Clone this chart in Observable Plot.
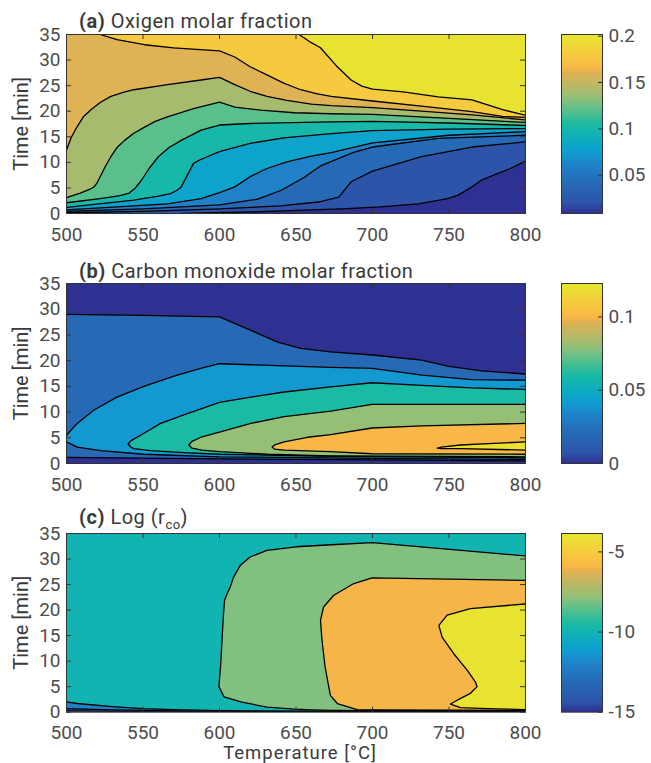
<!DOCTYPE html>
<html><head><meta charset="utf-8">
<script src="https://cdn.jsdelivr.net/npm/d3@7"></script>
<script src="https://cdn.jsdelivr.net/npm/@observablehq/plot@0.6"></script>
<style>
body{margin:0;background:#fff;}
#root{position:relative;width:651px;height:763px;overflow:hidden;font-family:Roboto,sans-serif;}
#root svg{position:absolute;}
</style></head><body><div id="root"></div>
<script>
// ---------- axes ----------
const tempDomain = [500, 800];
const timeDomain = [0, 35];
const tempTicks = [500, 550, 600, 650, 700, 750, 800];
const timeTicks = [0, 5, 10, 15, 20, 25, 30, 35];

// ---------- colormap (parula as rendered in the figure) ----------
const parulaStops  = [0, 0.06, 0.16, 0.27, 0.33, 0.38, 0.46, 0.5, 0.58, 0.63, 0.66, 0.7, 0.79, 0.81, 0.9, 0.97, 1];
const parulaColors = ["#2e3191","#2d55a9","#2668b4","#1f82c9","#139ad0","#0ba6c9","#13b6ae","#1ebba0","#5cbf8a","#84c07e","#9cbe72","#b2b96a","#e2b152","#f8b648","#f6cd3c","#ebe032","#e5e52f"];

// ---------- (a) oxygen molar fraction: contour lines [T, t] ----------
const o2Range = [0.0086, 0.2018];
const o2CbTicks = [0.05, 0.1, 0.15, 0.2];
const o2_002 = [[575,0],[620,0.3],[650,0.6],[680,0.9],[705,1.3],[730,1.9],[749,2.9],[756,3.6],[764,5.0],[771,6.5],[780,7.6],[790,8.8],[800,10.2]];
const o2_004 = [[500,0.15],[550,0.4],[600,0.9],[640,1.5],[666,2.3],[678,3.2],[686,6.2],[700,8.3],[732,11.1],[765,13.0],[800,14.0]];
const o2_006 = [[500,0.4],[550,0.9],[600,1.7],[625,2.8],[640,4.5],[655,7.0],[666,9.3],[688,12.0],[700,13.0],[743,14.7],[800,15.3]];
const o2_008 = [[500,0.7],[566,1.9],[588,2.9],[600,4.1],[610,5.2],[620,7.2],[631,8.8],[644,10.1],[660,11.2],[673,11.9],[700,13.8],[750,15.3],[800,16.0]];
const o2_010 = [[500,1.2],[544,2.6],[560,3.4],[568,3.9],[572,4.5],[575,5.2],[579,7.5],[583,9.8],[588,10.6],[592,11.1],[600,12.1],[620,13.7],[642,14.8],[673,15.6],[700,16.2],[750,16.5],[800,16.6]];
const o2_012 = [[500,2.1],[522,2.9],[535,3.5],[541,4.0],[545,5.0],[549,6.5],[554,8.8],[560,11.1],[567,12.9],[575,14.3],[588,16.3],[600,17.3],[620,17.6],[673,17.9],[700,18.0],[750,17.7],[800,17.2]];
const o2_014 = [[500,3.1],[509,4.0],[515,4.7],[518,5.2],[520,6.0],[522,7.2],[525,9.0],[529,11.1],[533,12.9],[538,14.3],[544,15.7],[551,16.9],[558,18.0],[566,18.9],[583,20.5],[600,21.8],[610,20.8],[627,20.2],[649,19.7],[673,19.5],[700,19.4],[750,18.6],[800,17.8]];
const o2_016 = [[500,12.4],[503,14.8],[507,17.0],[511,18.9],[516,20.3],[522,21.7],[529,22.9],[537,23.7],[544,24.2],[566,25.2],[588,26.1],[600,26.6],[610,25.2],[620,23.9],[631,22.9],[644,22.1],[660,21.4],[673,21.1],[700,20.7],[732,20.0],[765,19.3],[800,18.3]];
const o2_018 = [[522,35],[533,34.0],[551,33.0],[570,32.4],[590,32.0],[600,31.8],[610,30.6],[620,28.7],[631,27.1],[642,25.5],[653,24.2],[664,23.4],[673,22.9],[700,22.0],[732,21.0],[765,19.9],[785,19.0],[800,18.8]];
const o2_020 = [[652,35],[660,33.4],[666,32.4],[676,29.0],[686,26.1],[693,24.9],[700,24.3],[720,23.8],[743,22.8],[765,22.2],[785,20.3],[800,19.2]];

// ---------- (b) carbon monoxide molar fraction ----------
const coRange = [0, 0.1228];
const coCbTicks = [0, 0.05, 0.1];
const co_002_upper = [[500,29.0],[550,28.8],[600,28.5],[620.5,25.9],[638,23.6],[653,22.4],[672.5,21.7],[700,21.1],[732,20.1],[750,18.9],[771.5,18.0],[800,17.4]];
const co_002_lower = [[800,0.5],[700,0.7],[600,0.9],[500,1.2]];
const co_004_upper = [[500,5.5],[507,7.8],[518,10.4],[533,12.9],[550.6,15.0],[570.3,17.0],[587.7,18.5],[600,19.4],[620.5,19.2],[672.7,18.7],[700,18.5],[732.3,17.2],[765,16.3],[800,16.2]];
const co_004_lower = [[800,0.8],[700,1.0],[600,1.3],[550.6,1.8],[522.4,2.5],[507,3.2],[500,4.2]];
const co_006 = [[800,14.4],[765,14.7],[732.3,15.2],[699.7,15.7],[672.7,14.9],[642.3,13.9],[620.5,12.9],[600,11.9],[579,9.7],[561.5,7.8],[548.4,5.5],[542,4.4],[540.3,3.8],[542,3.2],[544,2.9],[555,2.5],[577,2.1],[600,1.8],[672.7,1.4],[800,1.1]];
const co_008 = [[800,11.5],[699.7,11.5],[672.7,10.2],[642.3,9.1],[620.5,7.8],[600,6.1],[588.6,5.2],[582,4.3],[580,3.6],[582,3.0],[588.6,2.6],[600,2.3],[631.4,1.8],[672.7,1.5],[800,1.3]];
const co_010 = [[800,7.8],[732.3,7.3],[699.7,6.9],[672.7,5.6],[657.5,5.1],[642.3,4.2],[636,3.6],[634.4,3.2],[636,2.8],[642.3,2.6],[672.7,2.3],[699.7,1.9],[800,1.8]];
const co_012 = [[800,4.2],[779.3,3.9],[757.5,3.6],[745,3.2],[742.3,3.0],[745,2.9],[757.5,2.9],[800,2.6]];

// ---------- (c) log(r_co) ----------
const lrRange = [-15, -3.85];
const lrCbTicks = [-15, -10, -5];
const lr_m14 = [[500,0.25],[550,0.12],[600,0.06],[700,0.04],[800,0.04]];
const lr_m12 = [[500,0.7],[530,0.45],[570,0.25],[600,0.15],[700,0.1],[800,0.1]];
const lr_m10 = [[500,2.0],[507,1.7],[530,1.1],[550,0.7],[570,0.5],[600,0.3],[650,0.2],[700,0.15],[800,0.15]];
const lr_m8 = [[800,0.25],[700,0.3],[674,0.35],[660,0.45],[649,0.6],[631,1.0],[614,2.0],[603,3.0],[599.6,5.0],[600.7,8.9],[601.8,15],[602.5,18.7],[603.3,21.9],[605,23.2],[607,24.5],[609.3,26.5],[613.7,28.8],[620,30.4],[631,31.7],[650,32.4],[673,32.8],[700,33.2],[800,30.6]];
const lr_m6 = [[800,0.35],[750,0.4],[700,0.45],[690,0.5],[677,1.7],[672.5,3.3],[671.4,5.0],[669,8.9],[667,14.1],[666,18.0],[668,20.6],[674.7,22.9],[687.8,25.2],[699.8,26.3],[800,25.8]];
const lr_m4 = [[800,21.2],[764,20.3],[748.8,19.0],[743.4,17.0],[745.5,14.7],[753,11.5],[762,8.2],[767.3,5.9],[768.4,5.0],[764,3.7],[755.4,2.35],[751,1.6],[757.5,0.9],[775,0.7],[800,0.5]];

// ---------- build ----------
const [X0, X1] = tempDomain, [Y0, Y1] = timeDomain;
const closeTop = [[X1, Y1], [X0, Y1]];
const closeTopLeft = [[X1, Y1], [X0, Y1], [X0, Y0]];

const panels = [
  {frameTop: 34.3, frameBottom: 213.3, tickPad: 14, range: o2Range, cbTicks: o2CbTicks, contours: [
    {value: 0.02, paths: [o2_002], close: closeTopLeft},
    {value: 0.04, paths: [o2_004], close: closeTop},
    {value: 0.06, paths: [o2_006], close: closeTop},
    {value: 0.08, paths: [o2_008], close: closeTop},
    {value: 0.10, paths: [o2_010], close: closeTop},
    {value: 0.12, paths: [o2_012], close: closeTop},
    {value: 0.14, paths: [o2_014], close: closeTop},
    {value: 0.16, paths: [o2_016], close: closeTop},
    {value: 0.18, paths: [o2_018], close: closeTop},
    {value: 0.20, paths: [o2_020], close: closeTop}]},
  {frameTop: 283.3, frameBottom: 463.3, tickPad: 14, range: coRange, cbTicks: coCbTicks, contours: [
    {value: 0.02, paths: [co_002_upper, co_002_lower]},
    {value: 0.04, paths: [co_004_upper, co_004_lower]},
    {value: 0.06, paths: [co_006]},
    {value: 0.08, paths: [co_008]},
    {value: 0.10, paths: [co_010]},
    {value: 0.12, paths: [co_012]}]},
  {frameTop: 533.3, frameBottom: 712, tickPad: 13.5, range: lrRange, cbTicks: lrCbTicks, contours: [
    {value: -14, paths: [lr_m14], close: closeTop},
    {value: -12, paths: [lr_m12], close: closeTop},
    {value: -10, paths: [lr_m10], close: closeTop},
    {value: -8, paths: [lr_m8]},
    {value: -6, paths: [lr_m6]},
    {value: -4, paths: [lr_m4]}]}
];

const frameL = 66, frameR = 525, cbL = 561, cbR = 602;
const root = document.getElementById("root");
const fmt = d => String(d);
const baseStyle = {fontSize: "19px", fontFamily: "Roboto, sans-serif", color: "#4d4d4d", background: "transparent", overflow: "visible"};

function colorScale([lo, hi]) {
  return {type: "linear", domain: parulaStops.map(s => lo + s * (hi - lo)), range: parulaColors, interpolate: "rgb", clamp: true};
}

for (const p of panels) {
  const h = p.frameBottom - p.frameTop;
  const w = frameR - frameL;
  const mt = 10, mb = 40;
  const marks = [Plot.rect([p.range[0]], {x1: X0, x2: X1, y1: Y0, y2: Y1, fill: d => d})];
  for (const c of p.contours) {
    const poly = c.paths.flat().concat(c.close || []);
    marks.push(Plot.line(poly, {x: d => d[0], y: d => d[1], fill: () => c.value, stroke: "none", clip: true}));
  }
  for (const c of p.contours) for (const path of c.paths) {
    marks.push(Plot.line(path, {x: d => d[0], y: d => d[1], stroke: "#000", strokeWidth: 1.3, clip: true}));
  }
  marks.push(
    Plot.tickX(tempTicks, {x: d => d, insetTop: h - 5, stroke: "#333"}),
    Plot.tickX(tempTicks, {x: d => d, insetBottom: h - 5, stroke: "#333"}),
    Plot.tickY(timeTicks, {y: d => d, insetRight: w - 5, stroke: "#333"}),
    Plot.tickY(timeTicks, {y: d => d, insetLeft: w - 5, stroke: "#333"}),
    Plot.frame({stroke: "#333", strokeWidth: 1})
  );
  const svg = Plot.plot({
    width: frameL + w + 20, height: mt + h + mb,
    marginLeft: frameL, marginRight: 20, marginTop: mt, marginBottom: mb,
    style: baseStyle,
    x: {domain: tempDomain, ticks: tempTicks, tickSize: 0, tickPadding: p.tickPad, tickFormat: fmt, label: null},
    y: {domain: timeDomain, ticks: timeTicks, tickSize: 0, tickPadding: 6, tickFormat: fmt, label: null},
    color: colorScale(p.range),
    marks
  });
  svg.style.left = "0px";
  svg.style.top = (p.frameTop - mt) + "px";
  root.appendChild(svg);

  // colorbar
  const [lo, hi] = p.range, n = 240;
  const bins = d3.range(n).map(i => ({a: lo + (hi - lo) * i / n, b: lo + (hi - lo) * (i + 1) / n, m: lo + (hi - lo) * (i + 0.5) / n}));
  const cw = cbR - cbL;
  const cb = Plot.plot({
    width: 10 + cw + 49, height: mt + h + mb,
    marginLeft: 10, marginRight: 49, marginTop: mt, marginBottom: mb,
    style: baseStyle,
    x: {domain: [0, 1], axis: null},
    y: {domain: p.range, axis: "right", ticks: p.cbTicks, tickSize: 0, tickPadding: 6, tickFormat: fmt, label: null},
    color: colorScale(p.range),
    marks: [
      Plot.rect(bins, {x1: 0, x2: 1, y1: "a", y2: "b", fill: "m", shapeRendering: "crispEdges", insetTop: -0.3, insetBottom: -0.3}),
      Plot.tickY(p.cbTicks, {y: d => d, insetLeft: cw - 4, stroke: "#333"}),
      Plot.frame({stroke: "#333", strokeWidth: 1})
    ]
  });
  cb.style.left = (cbL - 10) + "px";
  cb.style.top = (p.frameTop - mt) + "px";
  root.appendChild(cb);
}

// ---------- free text ----------
const NS = "http://www.w3.org/2000/svg";
const ov = document.createElementNS(NS, "svg");
ov.setAttribute("width", 651); ov.setAttribute("height", 763);
ov.style.left = "0px"; ov.style.top = "0px";
ov.setAttribute("font-family", "Roboto, sans-serif");
ov.setAttribute("font-size", "20");
ov.setAttribute("fill", "#3a3a3a");
ov.innerHTML = `
<text x="79" y="28" letter-spacing="0.5"><tspan font-weight="bold">(a)</tspan> Oxigen molar fraction</text>
<text x="79" y="277.5" letter-spacing="0.5"><tspan font-weight="bold">(b)</tspan> Carbon monoxide molar fraction</text>
<text x="79" y="524" letter-spacing="0.5"><tspan font-weight="bold">(c)</tspan> Log (r<tspan font-size="13" dy="5">co</tspan><tspan dy="-5">)</tspan></text>
<text transform="translate(28,123.8) rotate(-90)" text-anchor="middle">Time [min]</text>
<text transform="translate(28,373.3) rotate(-90)" text-anchor="middle">Time [min]</text>
<text transform="translate(28,622.7) rotate(-90)" text-anchor="middle">Time [min]</text>
<text x="300" y="759.3" font-size="18.5" text-anchor="middle" letter-spacing="1">Temperature [°C]</text>`;
root.appendChild(ov);
</script></body></html>
